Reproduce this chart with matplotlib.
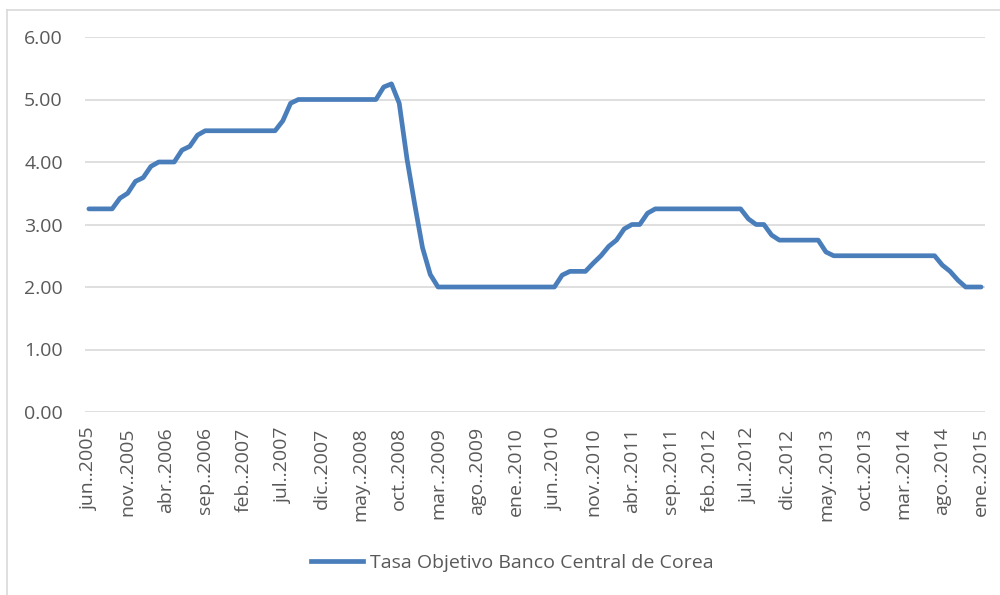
"""Tasa objetivo Banco Central de Corea, promedio mensual jun 2005 - ene 2015."""
import matplotlib
matplotlib.use("Agg")
import matplotlib.pyplot as plt
from matplotlib.lines import Line2D

plt.rcParams["font.family"] = ["Open Sans", "DejaVu Sans"]

# ---------------------------------------------------------------------------
# Data (monthly, jun 2005 .. ene 2015)
# ---------------------------------------------------------------------------
MONTHS = ["ene", "feb", "mar", "abr", "may", "jun",
          "jul", "ago", "sep", "oct", "nov", "dic"]

START_YEAR, START_MONTH = 2005, 6   # jun 2005

RATE = [
    # 2005 jun-dic
    3.25, 3.25, 3.25, 3.25, 3.42, 3.50, 3.69,
    # 2006
    3.75, 3.93, 4.00, 4.00, 4.00, 4.19, 4.25, 4.43, 4.50, 4.50, 4.50, 4.50,
    # 2007
    4.50, 4.50, 4.50, 4.50, 4.50, 4.50, 4.66, 4.94, 5.00, 5.00, 5.00, 5.00,
    # 2008
    5.00, 5.00, 5.00, 5.00, 5.00, 5.00, 5.00, 5.20, 5.25, 4.94, 4.05, 3.32,
    # 2009
    2.63, 2.20, 2.00, 2.00, 2.00, 2.00, 2.00, 2.00, 2.00, 2.00, 2.00, 2.00,
    # 2010
    2.00, 2.00, 2.00, 2.00, 2.00, 2.00, 2.19, 2.25, 2.25, 2.25, 2.38, 2.50,
    # 2011
    2.65, 2.75, 2.93, 3.00, 3.00, 3.18, 3.25, 3.25, 3.25, 3.25, 3.25, 3.25,
    # 2012
    3.25, 3.25, 3.25, 3.25, 3.25, 3.25, 3.09, 3.00, 3.00, 2.83, 2.75, 2.75,
    # 2013
    2.75, 2.75, 2.75, 2.75, 2.56, 2.50, 2.50, 2.50, 2.50, 2.50, 2.50, 2.50,
    # 2014
    2.50, 2.50, 2.50, 2.50, 2.50, 2.50, 2.50, 2.35, 2.25, 2.11, 2.00, 2.00,
    # 2015
    2.00,
]

SERIES_NAME = "Tasa Objetivo Banco Central de Corea"
Y_TICKS = [0, 1, 2, 3, 4, 5, 6]

LINE_COLOR = "#4A7EBB"
GRID_COLOR = "#D9D9D9"
TEXT_COLOR = "#595959"
LW = 3.4
FS = 14


def month_label(i):
    m = (START_MONTH - 1 + i) % 12
    y = START_YEAR + (START_MONTH - 1 + i) // 12
    return f"{MONTHS[m]}..{y}"


def main():
    n = len(RATE)
    x = list(range(n))

    fig = plt.figure(figsize=(10, 5.95), dpi=100)
    # plot area in pixels: x 85..985, y 37..412 (of 1000x595)
    ax = fig.add_axes([0.085, 1 - 412 / 595, 0.90, 375 / 595])

    ax.plot(x, RATE, color=LINE_COLOR, linewidth=LW,
            solid_joinstyle="round", solid_capstyle="round", zorder=3)

    ax.set_xlim(-0.5, n - 0.5)
    ax.set_ylim(0, 6)
    ax.set_yticks(Y_TICKS)
    ax.set_yticklabels([f"{v:.2f}" for v in Y_TICKS])
    ticks = list(range(0, n, 5))
    ax.set_xticks(ticks)
    ax.set_xticklabels([month_label(i) for i in ticks], rotation=90)

    ax.grid(axis="y", color=GRID_COLOR, linewidth=1.2)
    ax.set_axisbelow(True)
    for s in ax.spines.values():
        s.set_visible(False)
    ax.tick_params(axis="both", length=0, colors=TEXT_COLOR, labelsize=FS)
    ax.tick_params(axis="y", pad=16)
    ax.tick_params(axis="x", pad=11)

    # legend below the plot
    fig.legend(handles=[Line2D([0], [0], color=LINE_COLOR, linewidth=LW)],
               labels=[SERIES_NAME], loc="center",
               bbox_to_anchor=(0.512, 1 - 563 / 595), frameon=False,
               fontsize=FS, labelcolor=TEXT_COLOR, handlelength=2.7,
               handletextpad=0.35)

    # chart frame (left and top edges visible)
    frame = dict(color="#D9D9D9", linewidth=1.2, transform=fig.transFigure)
    fig.add_artist(Line2D([7 / 1000, 7 / 1000], [0, 1 - 10 / 595], **frame))
    fig.add_artist(Line2D([7 / 1000, 1.0], [1 - 10 / 595, 1 - 10 / 595], **frame))

    fig.savefig("out.png", dpi=100)
    plt.close(fig)


if __name__ == "__main__":
    main()
